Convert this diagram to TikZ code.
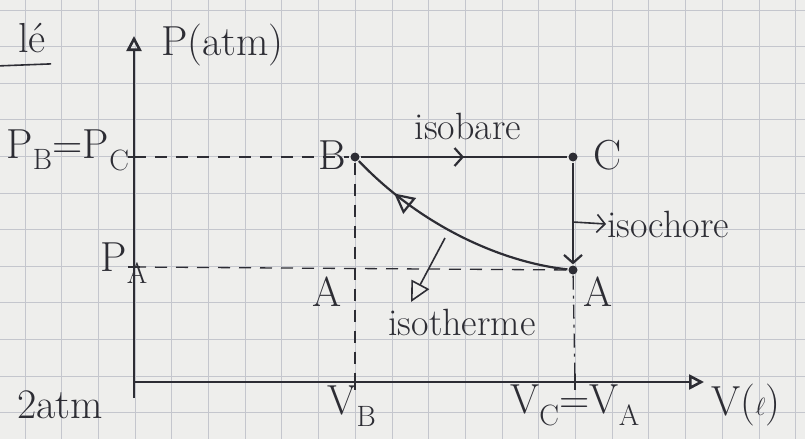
\documentclass[tikz,border=0pt]{standalone}
\usetikzlibrary{arrows.meta,decorations.markings}
\definecolor{ink}{RGB}{45,45,52}
\definecolor{paper}{RGB}{238,238,236}
\definecolor{gridc}{RGB}{196,198,205}
\newcommand{\OpenTip}{Triangle[open,length=15,width=15]}
\newcommand{\BigTip}{Triangle[open,length=20,width=20]}
\newcommand{\BarbTip}{Straight Barb[length=8,width=18]}
\tikzset{->-/.style={decoration={markings,mark=at position #1 with {\arrow{\BarbTip}}},postaction={decorate}},
-o-/.style={decoration={markings,mark=at position #1 with {\arrow{\BigTip}}},postaction={decorate}},
dot/.style={circle,fill=ink,inner sep=0,minimum size=9},
big/.style={font=\fontsize{42}{48}\selectfont,text=ink,inner sep=0},
word/.style={font=\fontsize{38}{44}\selectfont,text=ink,inner sep=0},
guide/.style={line width=1.3,dash pattern=on 12 off 9}}
\begin{document}
\begin{tikzpicture}[x=1pt,y=-1pt,line width=2.2,draw=ink]
\fill[paper](0,0)rectangle(805,439);\useasboundingbox(0,0)rectangle(805,439);
\foreach \i in {0,...,21}{\draw[gridc,line width=1](25+36.7*\i,0)--++(0,439);}
\foreach \j in {0,...,11}{\draw[gridc,line width=1](0,10+36.6*\j)--++(805,0);}
% axes
\coordinate(O)at(134,382);\coordinate(Ob)at(134,398);\coordinate(ytop)at(134,36);\coordinate(xend)at(704,382);
\draw[line width=2.6,-{\OpenTip}](Ob)--(ytop);\draw[line width=2.6,-{\OpenTip}](O)--(xend);
\node[big,anchor=west](Pax)at(160,45){P(atm)};\node[big](Vax)at(746,405){V($\ell$)};
\node[big](lt)at(32,38){l\'e};\draw[line width=1.6](lt.south west)++(-18,12)coordinate(u1)--++(52,-2)coordinate(u2);
% cycle points
\node[dot](B)at(355,157){};\node[dot](C)at(573,157){};\node[dot](A)at(573,270){};
\coordinate(pB)at(134,157);\coordinate(pA)at(134,267);\coordinate(vB)at(355,382);\coordinate(vC)at(575,382);
\draw[guide](pB)--(B);\draw[guide](pA)--(A);\draw[guide](B)--(vB);\draw[guide,dash pattern=on 14 off 6 on 3 off 6](A)--(vC);
\foreach \t in {pB,pA}{\draw[line width=2](\t)++(-6,0)--++(12,0);}
\foreach \t in {vB,vC}{\draw[line width=2](\t)++(0,-8)--++(0,16);}
\node[big](lPB)at(68,150){P\textsubscript{B}=P\textsubscript{C}};\node[big](lPA)at(124,263){P\textsubscript{A}};
\node[big](lVB)at(352,406){V\textsubscript{B}};\node[big](lVC)at(575,405){V\textsubscript{C}=V\textsubscript{A}};
\node[big](l2)at(60,405){2atm};
\node[big](lB)at(332,155){B};\node[big](lC)at(608,155){C};\node[big](lA)at(598,292){A};\node[big](lA2)at(327,292){A};
% transformations
\draw[->-=.5](B)--(C);\draw[-{\BarbTip}](C)--(A);
\draw[-o-=.8](A).. controls (500,262) and (420,225) ..(B);
\node[word](tBC)at(468,126){isobare};
\coordinate(ch)at(573,222);\node[word,anchor=west](tCA)at(606,224){isochore};
\draw[line width=1.6,-{\BarbTip}](ch)--(tCA.west);
\coordinate(th)at(445,238);\coordinate(thE)at(411,302);\node[word](tAB)at(462,322){isotherme};
\draw[line width=1.6,-{\BigTip}](th)--(thE);
\end{tikzpicture}
\end{document}
